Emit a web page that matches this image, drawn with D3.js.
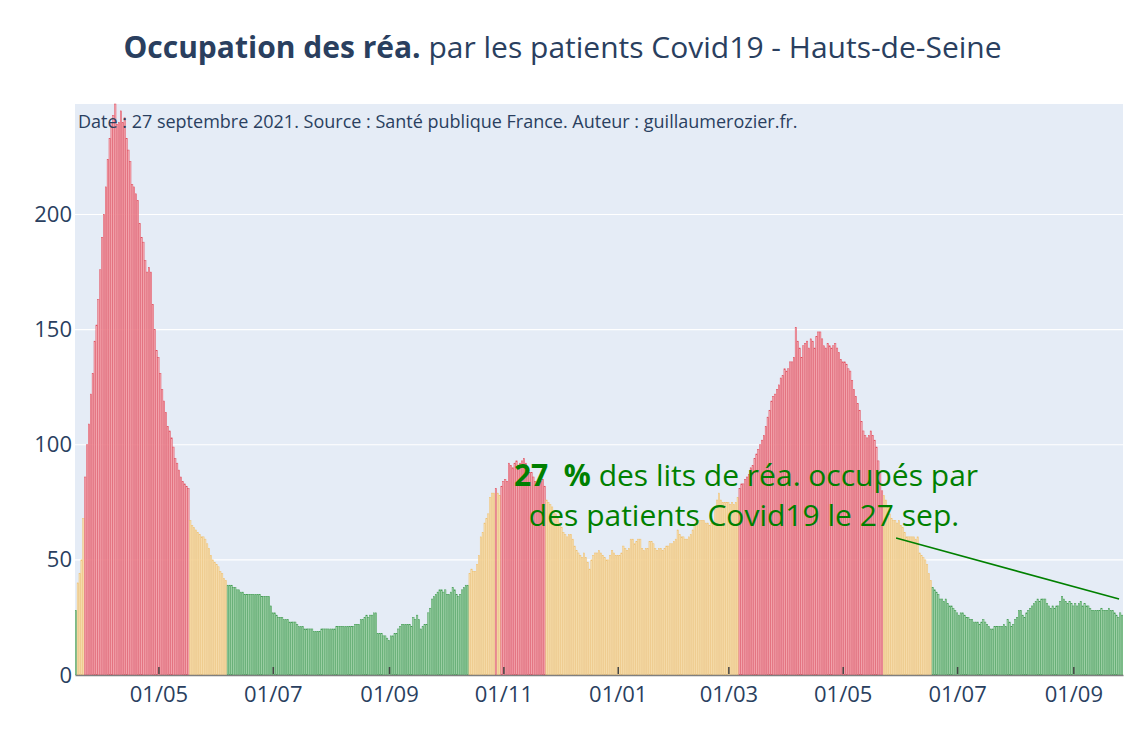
<!DOCTYPE html>
<html>
<head>
<meta charset="utf-8">
<script src="https://cdn.jsdelivr.net/npm/d3@7"></script>
<style>
  html, body { margin: 0; padding: 0; background: #ffffff; }
  svg { display: block; font-family: "Open Sans", "Noto Sans", sans-serif; }
</style>
</head>
<body>
<svg id="chart" width="1125" height="750"></svg>
<script>
// ---------------- DATA ----------------
const firstDate = "2020-03-18";
// Patients Covid19 en réanimation, Hauts-de-Seine, one value per day
const occ2020 = [
  28, 40, 44, 50, 68, 86, 100, 109, 122, 131,
  145, 152, 163, 176, 190, 200, 212, 224, 233, 240,
  243, 248, 239, 240, 245, 240, 242, 233, 228, 223,
  213, 212, 209, 206, 196, 190, 188, 180, 175, 177,
  175, 161, 150, 141, 138, 131, 124, 119, 114, 108,
  106, 103, 99, 94, 92, 89, 86, 84, 83, 82,
  81, 67, 65, 64, 63, 62, 61, 60, 60, 59,
  57, 55, 52, 50, 49, 48, 47, 45, 44, 42,
  41, 39, 39, 39, 38, 38, 37, 37, 36, 36,
  35, 35, 35, 35, 35, 35, 35, 35, 35, 34,
  34, 34, 34, 34, 30, 27, 27, 26, 25, 25,
  25, 24, 24, 24, 23, 23, 23, 23, 22, 21,
  21, 21, 20, 20, 20, 20, 20, 19, 19, 19,
  19, 20, 20, 20, 20, 20, 20, 20, 20, 21,
  21, 21, 21, 21, 21, 21, 21, 21, 21, 22,
  22, 22, 24, 24, 25, 26, 25, 26, 26, 27,
  27, 18, 18, 18, 17, 17, 16, 15, 17, 17,
  18, 18, 20, 21, 22, 22, 22, 22, 22, 21,
  25, 24, 26, 24, 20, 21, 22, 22, 27, 29,
  33, 34, 35, 36, 37, 37, 36, 37, 35, 35,
  36, 38, 37, 35, 34, 35, 37, 38, 39, 39,
  44, 46, 45, 45, 48, 52, 60, 62, 66, 68,
  70, 77, 79, 79, 81, 79, 78, 82, 84, 85,
  84, 92, 91, 90, 92, 93, 91, 92, 93, 94,
  92, 88, 88, 88, 86, 84, 83, 83, 84, 85,
  82, 76, 75, 74, 73, 71, 70, 68, 66, 64,
  62, 61, 60, 61, 61, 59, 56, 54, 53, 52,
  51, 53, 51, 49, 46, 50, 52, 53, 53, 54,
  53, 52, 51, 50, 50, 52, 54, 53, 52
];
const occ2021 = [
  52, 52, 53, 56, 55, 54, 55, 59, 59, 57, 58,
  59, 59, 55, 54, 55, 55, 58, 58, 57, 55,
  54, 55, 55, 54, 55, 56, 56, 57, 57, 58,
  59, 63, 61, 60, 60, 59, 59, 60, 61, 63,
  65, 66, 67, 67, 67, 67, 66, 66, 65, 66,
  66, 72, 76, 79, 76, 75, 75, 75, 75, 74,
  75, 74, 75, 77, 81, 83, 83, 85, 86, 87,
  90, 91, 94, 96, 98, 100, 102, 104, 108, 112,
  115, 119, 121, 122, 124, 126, 129, 130, 133, 132,
  133, 136, 136, 138, 151, 145, 142, 138, 143, 144,
  145, 142, 146, 145, 142, 147, 149, 149, 146, 143,
  142, 144, 143, 142, 143, 144, 142, 140, 137, 136,
  136, 135, 133, 132, 128, 124, 121, 118, 115, 110,
  106, 104, 103, 104, 106, 104, 102, 99, 93, 88,
  80, 78, 76, 73, 70, 68, 67, 67, 66, 67,
  65, 64, 62, 60, 60, 60, 60, 60, 59, 60,
  53, 52, 51, 50, 48, 44, 41, 38, 37, 36,
  35, 33, 33, 32, 33, 31, 30, 30, 29, 28,
  27, 26, 27, 27, 26, 25, 25, 24, 24, 23,
  23, 23, 22, 23, 24, 23, 22, 21, 20, 20,
  21, 21, 21, 21, 21, 22, 21, 24, 23, 21,
  22, 24, 25, 28, 28, 26, 25, 27, 28, 29,
  30, 31, 32, 33, 32, 33, 33, 33, 31, 30,
  29, 30, 29, 30, 30, 32, 34, 33, 32, 31,
  32, 31, 30, 31, 30, 31, 32, 30, 31, 30,
  30, 29, 28, 28, 28, 28, 28, 29, 28, 28,
  28, 29, 28, 28, 27, 26, 25, 27, 26
];
const levelThresholds = [40, 80];          // green < 40 <= orange < 80 <= red
const yTicks = [0, 50, 100, 150, 200];
const xTickDates = ["2020-05-01","2020-07-01","2020-09-01","2020-11-01","2021-01-01",
                    "2021-03-01","2021-05-01","2021-07-01","2021-09-01"];
const titleBold = "Occupation des réa.";
const titleRest = " par les patients Covid19 - Hauts-de-Seine";
const subtitle = "Date : 27 septembre 2021. Source : Santé publique France. Auteur : guillaumerozier.fr.";
const annotPct = "27\u00a0\u00a0%";
const annotLine1 = " des lits de réa. occupés par";
const annotLine2 = "des patients Covid19 le 27 sep.";
const annotTargetValue = 33;

// ---------------- BUILD ----------------
const parse = d3.timeParse("%Y-%m-%d");
const values = occ2020.concat(occ2021);
const start = parse(firstDate);
const data = values.map((v, i) => ({ date: d3.timeDay.offset(start, i), value: v }));

const W = 1125, H = 750;
const plot = { left: 75, right: 1123, top: 104, bottom: 675 };
const svg = d3.select("#chart");

const x = d3.scaleTime()
  .domain([d3.timeHour.offset(data[0].date, -12), d3.timeHour.offset(data[data.length - 1].date, 12)])
  .range([plot.left, plot.right]);
const y = d3.scaleLinear()
  .domain([0, d3.max(values)])
  .range([plot.bottom, plot.top]);

const palette = {
  green: { fill: "#a9d7b1", line: "#3f9a4f" },
  orange: { fill: "#f6dfb2", line: "#efc070" },
  red: { fill: "#f4b0b8", line: "#e04a5a" }
};
const level = v => v >= levelThresholds[1] ? "red" : (v >= levelThresholds[0] ? "orange" : "green");

// background
svg.append("rect").attr("x", plot.left).attr("y", plot.top)
  .attr("width", plot.right - plot.left).attr("height", plot.bottom - plot.top)
  .attr("fill", "#e5ecf6");

// grid
svg.append("g").selectAll("line").data(yTicks.filter(t => t > 0)).join("line")
  .attr("x1", plot.left).attr("x2", plot.right)
  .attr("y1", d => y(d)).attr("y2", d => y(d))
  .attr("stroke", "#ffffff").attr("stroke-width", 1.2);

// bars
const dayW = x(d3.timeDay.offset(data[0].date, 1)) - x(data[0].date);
const clipId = "plotclip";
svg.append("clipPath").attr("id", clipId).append("rect")
  .attr("x", plot.left).attr("y", plot.top - 2)
  .attr("width", plot.right - plot.left).attr("height", plot.bottom - plot.top + 2);
svg.append("g").attr("clip-path", `url(#${clipId})`)
  .selectAll("rect").data(data).join("rect")
  .attr("x", d => x(d.date) - dayW / 2 + 0.25)
  .attr("width", dayW - 0.5)
  .attr("y", d => y(d.value))
  .attr("height", d => y(0) - y(d.value))
  .attr("fill", d => palette[level(d.value)].fill)
  .attr("stroke", d => palette[level(d.value)].line)
  .attr("stroke-width", 0.5);

// x axis
const xAxis = d3.axisBottom(x)
  .tickValues(xTickDates.map(parse))
  .tickFormat(d3.timeFormat("%d/%m"))
  .tickSize(0).tickPadding(0);
const gx = svg.append("g").attr("transform", `translate(0,${plot.bottom})`).call(xAxis);
gx.select(".domain").attr("stroke", "#7f7f7f").attr("stroke-width", 1.5);
gx.selectAll(".tick text").attr("font-size", 22).attr("fill", "#2a3f5f")
  .attr("y", 27).attr("dy", 0).attr("font-family", "Open Sans");
gx.selectAll(".tick").append("line")
  .attr("y1", -1).attr("y2", -8).attr("stroke", "#444").attr("stroke-width", 1.5);

// y axis
const yAxis = d3.axisLeft(y).tickValues(yTicks).tickSize(0).tickPadding(0).tickFormat(d3.format("d"));
const gy = svg.append("g").attr("transform", `translate(${plot.left},0)`).call(yAxis);
gy.select(".domain").remove();
gy.selectAll(".tick text").attr("font-size", 22).attr("fill", "#2a3f5f")
  .attr("x", -3).attr("font-family", "Open Sans");

// subtitle inside plot
svg.append("text").attr("x", 78).attr("y", 128)
  .attr("font-size", 18).attr("fill", "#2a3f5f").text(subtitle);

// title
const t = svg.append("text").attr("x", W / 2).attr("y", 58)
  .attr("text-anchor", "middle").attr("font-size", 30).attr("fill", "#2a3f5f");
t.append("tspan").attr("font-weight", "bold").text(titleBold);
t.append("tspan").text(titleRest);

// annotation
const last = data[data.length - 1];
const tipX = x(last.date) - 3, tipY = y(annotTargetValue);
svg.append("line")
  .attr("x1", tipX - 223).attr("y1", tipY - 61)
  .attr("x2", tipX).attr("y2", tipY)
  .attr("stroke", "green").attr("stroke-width", 1.6);
const a = svg.append("text").attr("text-anchor", "middle").attr("font-size", 30).attr("fill", "green")
  .attr("style", "white-space:pre");
const l1 = a.append("tspan").attr("x", 746).attr("y", 486);
l1.append("tspan").attr("font-weight", "bold").text(annotPct);
l1.append("tspan").text(annotLine1);
a.append("tspan").attr("x", 744).attr("y", 526).text(annotLine2);
</script>
</body>
</html>
